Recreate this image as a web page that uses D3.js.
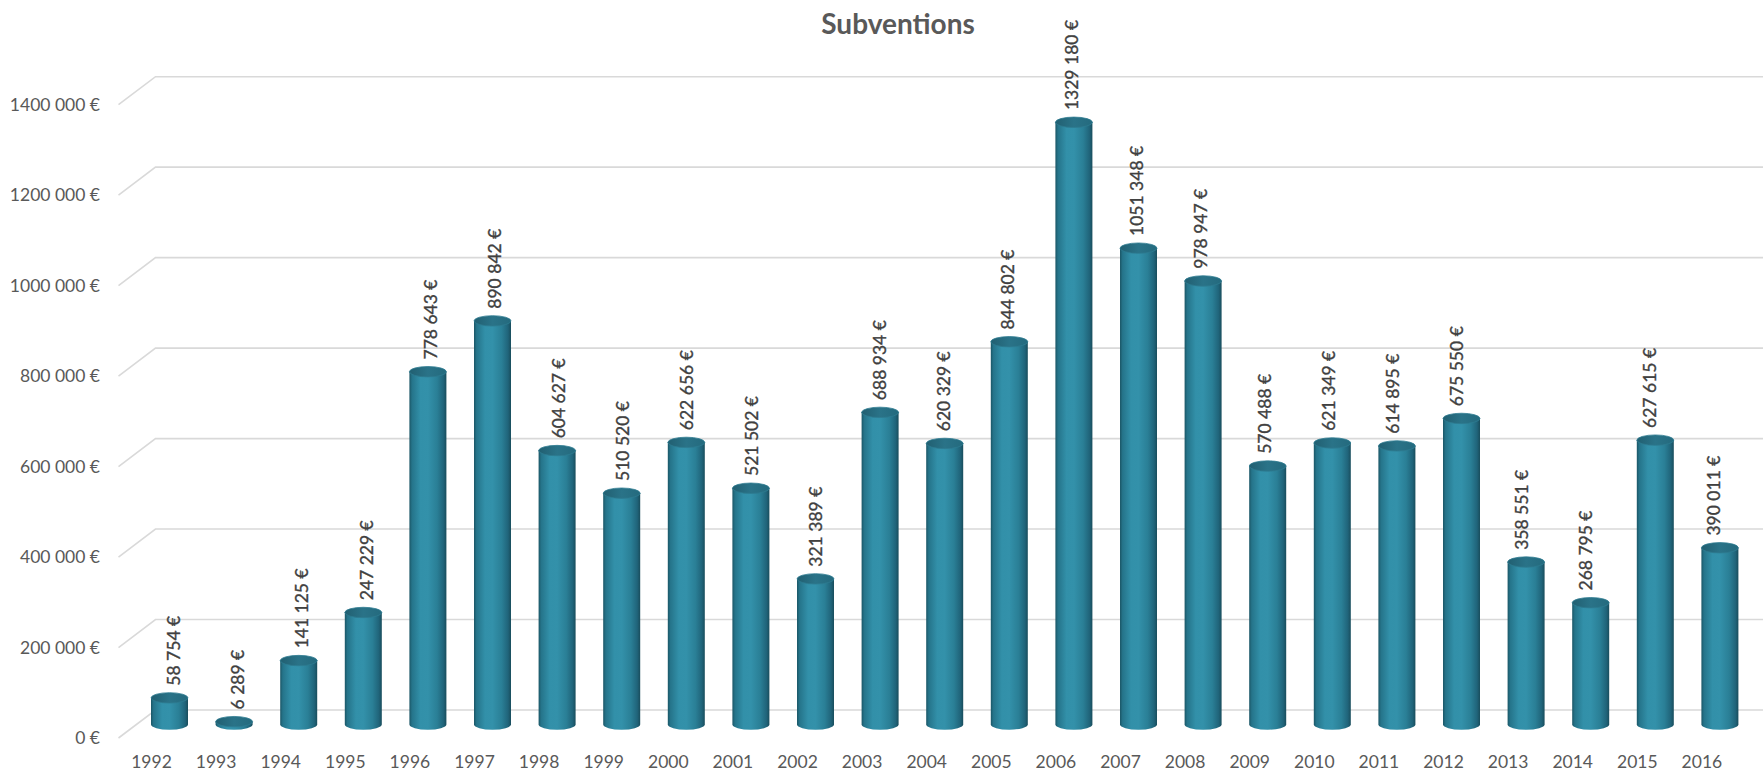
<!DOCTYPE html>
<html>
<head>
<meta charset="utf-8">
<script src="https://cdn.jsdelivr.net/npm/d3@7"></script>
<style>
  html, body { margin: 0; padding: 0; background: #ffffff; }
  svg { display: block; }
  text { font-family: Lato, "Open Sans", sans-serif; }
</style>
</head>
<body>
<svg id="chart" width="1763" height="771"></svg>
<script>
// Subventions per year (EUR)
const years = [1992, 1993, 1994, 1995, 1996, 1997, 1998, 1999, 2000, 2001, 2002, 2003,
               2004, 2005, 2006, 2007, 2008, 2009, 2010, 2011, 2012, 2013, 2014, 2015, 2016];
const amounts = [58754, 6289, 141125, 247229, 778643, 890842, 604627, 510520, 622656, 521502,
                 321389, 688934, 620329, 844802, 1329180, 1051348, 978947, 570488, 621349,
                 614895, 675550, 358551, 268795, 627615, 390011];
const yTicks = [0, 200000, 400000, 600000, 800000, 1000000, 1200000, 1400000];
const chartTitle = "Subventions";

// "1329 180 €" style: only the last group of three digits is separated
function euro(v) {
  const s = String(Math.round(v));
  return (s.length > 3 ? s.slice(0, -3) + " " + s.slice(-3) : s) + " €";
}

const W = 1763, H = 771;
const svg = d3.select("#chart");

// 3D box geometry: back wall plane and the depth offset toward the viewer
const depthX = -37, depthY = 28;
const wallLeft = 155.5, wallRight = W;

const yBack = d3.scaleLinear().domain([0, 1400000]).range([710, 76.7]);
const yFront = d3.scaleLinear().domain([0, 1400000]).range([710 + depthY, 76.7 + depthY]);
// bars stand in the middle of the depth
const yBar = d3.scaleLinear().domain([0, 1400000]).range([724.5, 724.5 - 634.3]);

const x = d3.scaleBand().domain(years).range([137.2, 1752.2]).padding(0);
const xFront = d3.scaleBand().domain(years).range([137.2 - 18, 1752.2 - 18]).padding(0);

const rx = 18.5, ry = 5.2;

// gradients for the cylinder body and top
const defs = svg.append("defs");
const bodyGrad = defs.append("linearGradient").attr("id", "cylBody")
  .attr("x1", "0%").attr("x2", "100%").attr("y1", "0%").attr("y2", "0%");
[[0, "#1b5666"], [0.07, "#25748a"], [0.3, "#3290a9"], [0.5, "#3391aa"],
 [0.75, "#2a7f96"], [0.92, "#20647a"], [1, "#194d5c"]]
  .forEach(([o, c]) => bodyGrad.append("stop").attr("offset", o).attr("stop-color", c));
const topGrad = defs.append("linearGradient").attr("id", "cylTop")
  .attr("x1", "0%").attr("x2", "100%").attr("y1", "0%").attr("y2", "0%");
[[0, "#215f71"], [0.5, "#2a7388"], [1, "#246a7e"]]
  .forEach(([o, c]) => topGrad.append("stop").attr("offset", o).attr("stop-color", c));

// gridlines: side wall segment + back wall line
const grid = svg.append("g").attr("class", "grid")
  .attr("fill", "none").attr("stroke", "#d9d9d9").attr("stroke-width", 1.6);
grid.selectAll("path").data(yTicks).join("path")
  .attr("d", d => `M${wallLeft + depthX},${yFront(d)} L${wallLeft},${yBack(d)} L${wallRight},${yBack(d)}`);

// y axis labels on the front edge
const yAxis = svg.append("g").attr("transform", "translate(100,0)")
  .call(d3.axisLeft(yFront).tickValues(yTicks).tickFormat(euro).tickSize(0).tickPadding(0));
yAxis.select(".domain").remove();
yAxis.selectAll("text")
  .attr("font-family", "Lato, 'Open Sans', sans-serif")
  .attr("font-size", 17.5).attr("fill", "#595959");

// x axis year labels
const xAxis = svg.append("g").attr("transform", "translate(0,755.5)")
  .call(d3.axisBottom(xFront).tickSize(0).tickPadding(0));
xAxis.select(".domain").remove();
xAxis.selectAll("text")
  .attr("font-family", "Lato, 'Open Sans', sans-serif")
  .attr("font-size", 17.5).attr("fill", "#595959");

const data = years.map((y, i) => ({ year: y, value: amounts[i], i }));

// cylinders
const bars = svg.append("g").attr("class", "bars");
const bar = bars.selectAll("g").data(data).join("g");
bar.append("path")
  .attr("fill", "url(#cylBody)")
  .attr("d", d => {
    const cx = x(d.year) + x.bandwidth() / 2;
    const yb = yBar(0), yt = yBar(d.value);
    return `M${cx - rx},${yt} L${cx - rx},${yb} A${rx},${ry} 0 0 0 ${cx + rx},${yb} L${cx + rx},${yt} Z`;
  });
bar.append("ellipse")
  .attr("cx", d => x(d.year) + x.bandwidth() / 2)
  .attr("cy", d => yBar(d.value))
  .attr("rx", rx).attr("ry", ry)
  .attr("fill", "url(#cylTop)")
  .attr("stroke", "#2d7b90").attr("stroke-width", 0.8);

// value labels, rotated, above each cylinder
svg.append("g").attr("class", "labels").selectAll("text").data(data).join("text")
  .attr("transform", d => {
    const cx = x(d.year) + x.bandwidth() / 2 + 4.5 - 10.5 * d.i / (years.length - 1);
    const y0 = yBar(d.value) - ry - 7;
    return `translate(${cx},${y0}) rotate(-90)`;
  })
  .attr("dy", "0.35em")
  .attr("text-anchor", "start")
  .attr("font-size", 17.5)
  .attr("fill", "#404040")
  .attr("stroke", "#404040").attr("stroke-width", 0.35)
  .text(d => euro(d.value));

// title
svg.append("text")
  .attr("x", 898).attr("y", 34)
  .attr("text-anchor", "middle")
  .attr("font-size", 28).attr("font-weight", "bold")
  .attr("fill", "#595959")
  .text(chartTitle);
</script>
</body>
</html>
